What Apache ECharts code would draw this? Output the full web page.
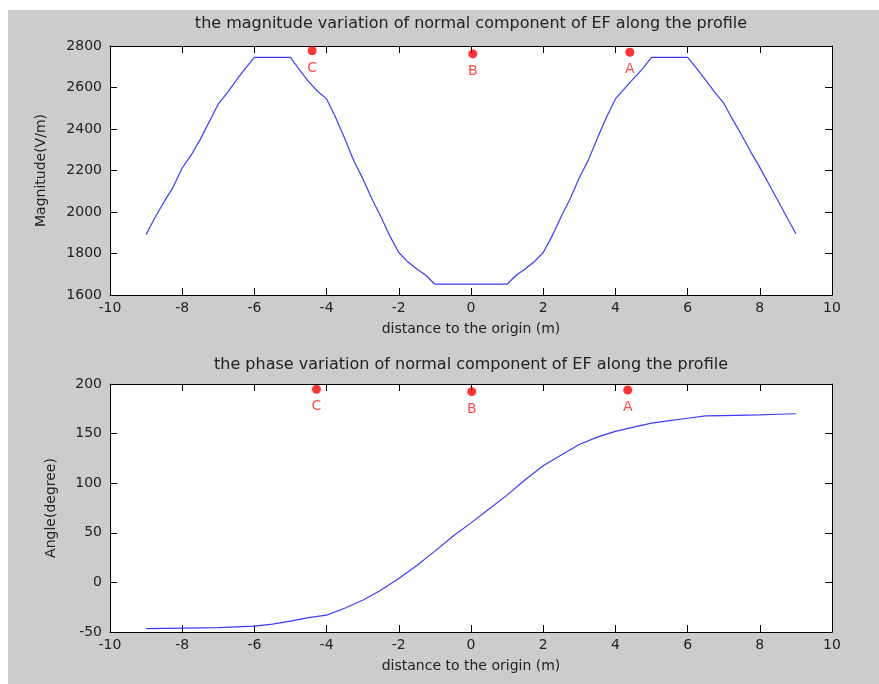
<!DOCTYPE html>
<html>
<head>
<meta charset="utf-8">
<script src="https://cdn.jsdelivr.net/npm/echarts@6/dist/echarts.min.js"></script>
<style>
html,body{margin:0;padding:0;background:#fff}
#main{width:879px;height:684px}
</style>
</head>
<body>
<div id="main"></div>
<script>
// top plot: magnitude along the profile
var magDist = [-9, -8.75, -8.5, -8.25, -8, -7.75, -7.5, -7.25, -7, -6.75, -6.5, -6.25, -6,
  -5, -4.75, -4.5, -4.25, -4, -3.75, -3.5, -3.25, -3, -2.75, -2.5, -2.25, -2, -1.75, -1.5, -1.25, -1,
  1, 1.25, 1.5, 1.75, 2, 2.25, 2.5, 2.75, 3, 3.25, 3.5, 3.75, 4, 4.25, 4.5, 4.75, 5,
  6, 6.25, 6.5, 6.75, 7, 7.25, 7.5, 7.75, 8, 8.25, 8.5, 8.75, 9];
var magnitude = [1892, 1975, 2050, 2120, 2212, 2275, 2350, 2435, 2520, 2575, 2635, 2692, 2745,
  2745, 2685, 2628, 2582, 2545, 2455, 2355, 2248, 2162, 2065, 1978, 1885, 1805, 1760, 1725, 1695, 1652,
  1652, 1695, 1725, 1760, 1805, 1885, 1978, 2065, 2165, 2250, 2355, 2455, 2545, 2595, 2643, 2690, 2745,
  2745, 2692, 2635, 2578, 2525, 2445, 2370, 2290, 2215, 2135, 2055, 1975, 1895];

// bottom plot: phase along the profile
var phaseDist = [-9, -8, -7, -6, -5.5, -5, -4.5, -4, -3.5, -3, -2.5, -2, -1.5, -1, -0.5, 0,
  0.5, 1, 1.5, 2, 2.5, 3, 3.5, 4, 4.5, 5, 5.5, 6, 6.5, 7, 8, 8.5, 9];
var phase = [-46.5, -46, -45.5, -44, -42, -39, -35.5, -33, -26, -18, -8, 4, 17, 31.5, 46.5, 60,
  74, 88, 103.5, 117.5, 128.5, 139, 146.5, 152.3, 156.5, 160.5, 163, 165.5, 167.8, 168.2, 168.8, 169.5, 170];

// marked points C, B, A
var pointNames = ['C', 'B', 'A'];
var magPointX = [-4.4, 0.05, 4.4];
var magPointY = [2777, 2762, 2770];
var phasePointX = [-4.28, 0.02, 4.34];
var phasePointY = [194.6, 192.3, 194];

var titles = ['the magnitude variation of normal component of EF along the profile',
  'the phase variation of normal component of EF along the profile'];
var xName = 'distance to the origin (m)';
var yNames = ['Magnitude(V/m)', 'Angle(degree)'];
var xRange = [-10, 10, 2];
var magRange = [1600, 2800, 200];
var phaseRange = [-50, 200, 50];

var font = 'DejaVu Sans';
var txt = '#222';

function pairs(xs, ys) {
  return xs.map(function (x, i) { return [x, ys[i]]; });
}
function marks(xs, ys) {
  return xs.map(function (x, i) { return { value: [x, ys[i]], name: pointNames[i] }; });
}
function plain(v) { return String(v); }

function xAxisPair(g) {
  var base = {
    type: 'value', gridIndex: g, min: xRange[0], max: xRange[1], interval: xRange[2],
    splitLine: { show: false },
    axisLine: { show: true, onZero: false, lineStyle: { color: '#000', width: 1 } },
    axisTick: { show: true, inside: true, length: 7, lineStyle: { color: '#000' } }
  };
  return [
    Object.assign({}, base, {
      position: 'bottom',
      axisLabel: { color: txt, fontSize: 14, fontFamily: font, margin: 6, formatter: plain },
      name: xName, nameLocation: 'middle', nameGap: 27,
      nameTextStyle: { color: txt, fontSize: 14, fontFamily: font }
    }),
    Object.assign({}, base, { position: 'top', axisLabel: { show: false } })
  ];
}
function yAxisPair(g, r, name, gap) {
  var base = {
    type: 'value', gridIndex: g, min: r[0], max: r[1], interval: r[2],
    splitLine: { show: false },
    axisLine: { show: true, onZero: false, lineStyle: { color: '#000', width: 1 } },
    axisTick: { show: true, inside: true, length: 7, lineStyle: { color: '#000' } }
  };
  return [
    Object.assign({}, base, {
      position: 'left',
      axisLabel: { color: txt, fontSize: 14, fontFamily: font, margin: 8, formatter: plain },
      name: name, nameLocation: 'middle', nameGap: gap,
      nameTextStyle: { color: txt, fontSize: 14, fontFamily: font }
    }),
    Object.assign({}, base, { position: 'right', axisLabel: { show: false } })
  ];
}

var markLabel = {
  show: true, position: 'bottom', distance: 6, formatter: '{b}',
  color: '#ff1a1a', fontSize: 14, fontFamily: font
};

var myChart = echarts.init(document.getElementById('main'));
var option = {
  backgroundColor: '#cccccc',
  animation: false,
  graphic: [
    { type: 'rect', shape: { x: 0, y: 0, width: 8, height: 684 }, style: { fill: '#fff' } },
    { type: 'rect', shape: { x: 0, y: 0, width: 879, height: 10 }, style: { fill: '#fff' } }
  ],
  title: [
    { text: titles[0], left: 471, top: 16, textAlign: 'center', padding: 0,
      textStyle: { color: txt, fontSize: 16, fontWeight: 'normal', fontFamily: font } },
    { text: titles[1], left: 471, top: 357, textAlign: 'center', padding: 0,
      textStyle: { color: txt, fontSize: 16, fontWeight: 'normal', fontFamily: font } }
  ],
  grid: [
    { left: 110, right: 47, top: 46, height: 249, show: true, backgroundColor: '#fff', borderWidth: 0 },
    { left: 110, right: 47, top: 384, height: 248, show: true, backgroundColor: '#fff', borderWidth: 0 }
  ],
  xAxis: xAxisPair(0).concat(xAxisPair(1)),
  yAxis: yAxisPair(0, magRange, yNames[0], 62).concat(yAxisPair(1, phaseRange, yNames[1], 52)),
  series: [
    { type: 'line', xAxisIndex: 0, yAxisIndex: 0, data: pairs(magDist, magnitude),
      showSymbol: false, lineStyle: { color: '#3b3bff', width: 1.2 } },
    { type: 'scatter', xAxisIndex: 0, yAxisIndex: 0, data: marks(magPointX, magPointY),
      symbolSize: 9, itemStyle: { color: '#ff0000' }, label: markLabel },
    { type: 'line', xAxisIndex: 2, yAxisIndex: 2, data: pairs(phaseDist, phase),
      showSymbol: false, lineStyle: { color: '#3b3bff', width: 1.2 } },
    { type: 'scatter', xAxisIndex: 2, yAxisIndex: 2, data: marks(phasePointX, phasePointY),
      symbolSize: 9, itemStyle: { color: '#ff0000' }, label: markLabel }
  ]
};
myChart.setOption(option);
</script>
</body>
</html>
